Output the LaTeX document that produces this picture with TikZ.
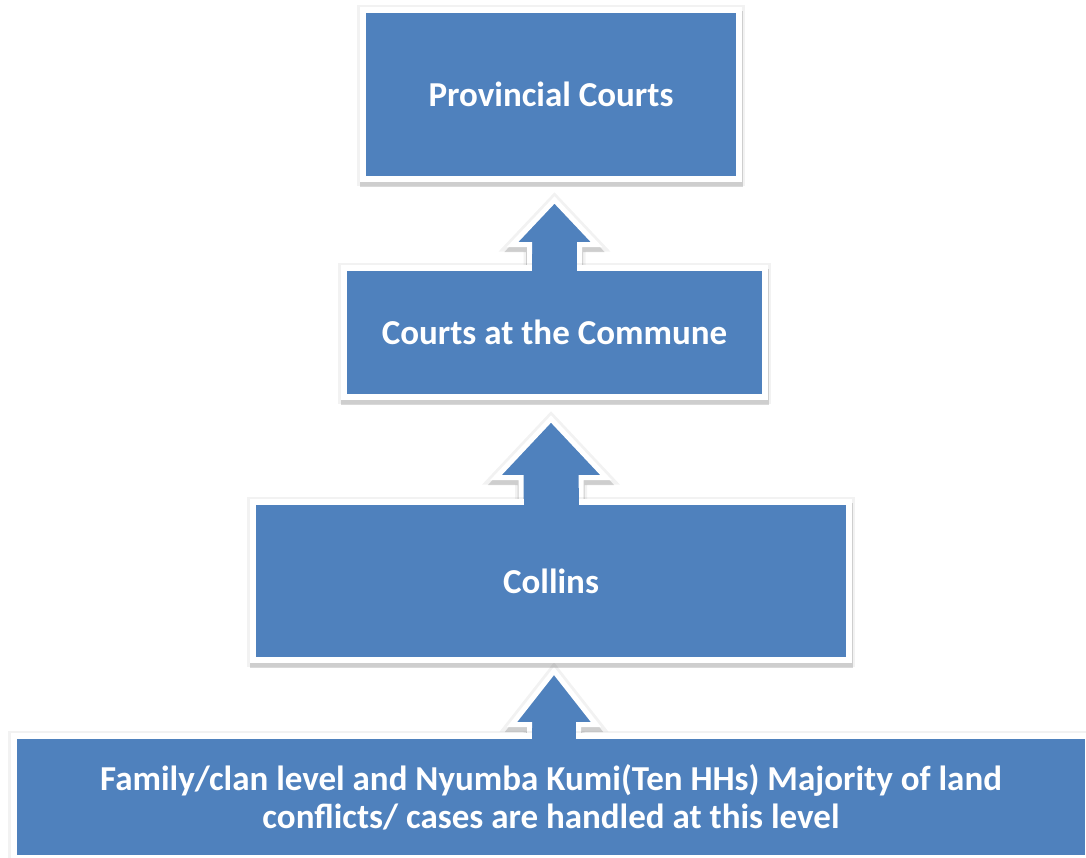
\documentclass[tikz,border=0pt]{standalone}
\usepackage{fontspec}
\setmainfont{Carlito}
\usetikzlibrary{calc}
\definecolor{levelblue}{RGB}{79,129,189}
\begin{document}
\begin{tikzpicture}[x=1pt,y=1pt,
    halo/.style={preaction={draw=black,draw opacity=.05,line width=12pt,transform canvas={yshift=-1pt}},
      preaction={draw=black,draw opacity=.15,line width=7pt,transform canvas={yshift=-4pt}}},
    level/.style={rectangle,halo,fill=levelblue,draw=white,line width=6pt,
      text=white,font=\fontsize{35}{38}\selectfont\bfseries,align=center},
    uparrow/.style={halo,fill=levelblue,draw=white,line width=5pt,line join=miter}]
    \useasboundingbox (0,0) rectangle (1086,-857);
    % arrows first, their shafts run under the box below
    \coordinate (a1) at (554.5,-268);
    \coordinate (a2) at (551,-502);
    \coordinate (a3) at (554,-736);
    \draw[uparrow] let \p1=(a1) in
      (\x1-25pt,\y1-10pt) -- (\x1-25pt,\y1+23.5pt) -- (\x1-42pt,\y1+23.5pt) -- (\x1,\y1+68pt)
      -- (\x1+42pt,\y1+23.5pt) -- (\x1+25pt,\y1+23.5pt) -- (\x1+25pt,\y1-10pt) -- cycle;
    \draw[uparrow] let \p1=(a2) in
      (\x1-30pt,\y1-10pt) -- (\x1-30pt,\y1+24.5pt) -- (\x1-55pt,\y1+24.5pt) -- (\x1,\y1+83pt)
      -- (\x1+55pt,\y1+24.5pt) -- (\x1+30pt,\y1+24.5pt) -- (\x1+30pt,\y1-10pt) -- cycle;
    \draw[uparrow] let \p1=(a3) in
      (\x1-24.5pt,\y1-10pt) -- (\x1-24.5pt,\y1+11.5pt) -- (\x1-42pt,\y1+11.5pt) -- (\x1,\y1+65pt)
      -- (\x1+42pt,\y1+11.5pt) -- (\x1+24.5pt,\y1+11.5pt) -- (\x1+24.5pt,\y1-10pt) -- cycle;
    % the four levels
    \node[level,minimum width=376,minimum height=169] (prov) at (551,-94.5) {Provincial Courts};
    \node[level,minimum width=421,minimum height=129] (commune) at (554.5,-332.5) {Courts at the Commune};
    \node[level,minimum width=596,minimum height=158] (collins) at (551,-581) {Collins};
    \node[level,minimum width=1074,minimum height=122] (family) at (551,-797)
      {Family/clan level and Nyumba Kumi(Ten HHs) Majority of land\\ conflicts/ cases are handled at this level};
    % shafts through the white edge of each box
    \fill[levelblue] ($(a1)+(-22.5,14)$) rectangle ($(a1)+(22.5,-4)$);
    \fill[levelblue] ($(a2)+(-27.5,14)$) rectangle ($(a2)+(27.5,-4)$);
    \fill[levelblue] ($(a3)+(-22,8)$) rectangle ($(a3)+(22,-4)$);
\end{tikzpicture}
\end{document}
